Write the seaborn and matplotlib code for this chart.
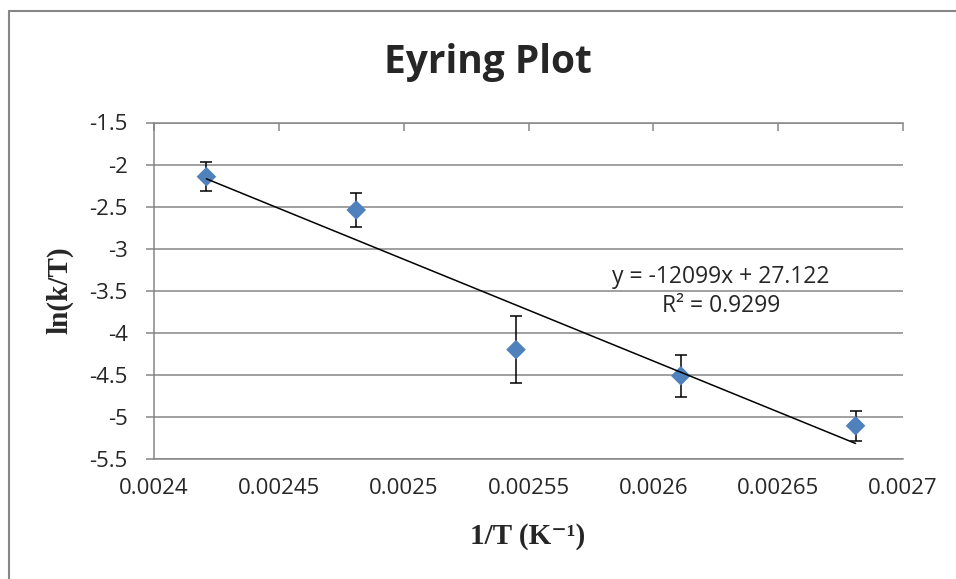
import numpy as np
import seaborn as sns
import matplotlib.pyplot as plt
from matplotlib.lines import Line2D

# data
inv_t = [0.002421, 0.002481, 0.002545, 0.002611, 0.002681]
ln_k_over_t = [-2.144, -2.540, -4.200, -4.511, -5.105]
err = [0.17, 0.20, 0.40, 0.25, 0.18]

slope = -12099
intercept = 27.122
r_squared = 0.9299

x_ticks = [0.0024, 0.00245, 0.0025, 0.00255, 0.0026, 0.00265, 0.0027]
x_ticklabels = ["0.0024", "0.00245", "0.0025", "0.00255", "0.0026", "0.00265", "0.0027"]
y_ticks = [-5.5, -5, -4.5, -4, -3.5, -3, -2.5, -2, -1.5]
y_ticklabels = ["-5.5", "-5", "-4.5", "-4", "-3.5", "-3", "-2.5", "-2", "-1.5"]

sns.set_style("white")
plt.rcParams["font.family"] = ["Open Sans", "DejaVu Sans"]

GRAY = "#868686"
BLUE = "#4F81BD"

fig = plt.figure(figsize=(9.56, 5.79), dpi=100)
ax = fig.add_axes([154 / 956, 1 - 459 / 579, (903 - 154) / 956, (459 - 122.5) / 579])

# error bars underneath the markers
ax.errorbar(inv_t, ln_k_over_t, yerr=err, fmt="none", ecolor="black",
            elinewidth=1.1, capsize=4, capthick=1.1, zorder=2)

sns.scatterplot(x=inv_t, y=ln_k_over_t, marker="D", s=100, color=BLUE,
                edgecolor="none", linewidth=0, ax=ax, zorder=3)

# linear trendline over the data range
fit_x = np.array([min(inv_t), max(inv_t)])
sns.lineplot(x=fit_x, y=slope * fit_x + intercept, color="black",
             linewidth=1.1, ax=ax, zorder=4)

ax.text(0.0026271, -3.408, f"y = {slope}x + {intercept}", fontsize=16.5,
        ha="center", va="baseline")
ax.text(0.0026271, -3.753, f"R² = {r_squared}", fontsize=16.5,
        ha="center", va="baseline")

ax.set_xlim(0.0024, 0.0027)
ax.set_ylim(-5.5, -1.5)
ax.set_xticks(x_ticks)
ax.set_xticklabels(x_ticklabels)
ax.set_yticks(y_ticks)
ax.set_yticklabels(y_ticklabels)

ax.grid(axis="y", color=GRAY, linewidth=1.1)
ax.grid(axis="x", visible=False)
for side in ["left", "bottom", "top"]:
    ax.spines[side].set_color(GRAY)
    ax.spines[side].set_linewidth(1.1)
ax.spines["right"].set_visible(False)

ax.tick_params(axis="x", bottom=False, top=True, direction="in", length=6,
               width=1.1, color=GRAY, labelsize=16, pad=14)
ax.tick_params(axis="y", left=True, direction="out", length=6, width=1.1,
               color=GRAY, labelsize=16, pad=13)

fig.text(488 / 956, 1 - 62 / 579, "Eyring Plot", fontsize=28, fontweight="bold",
         ha="center", va="center")
fig.text(60 / 956, 1 - 290 / 579, "ln(k/T)", fontsize=21, fontweight="bold",
         rotation=90, ha="center", va="center",
         family=["Liberation Serif", "DejaVu Serif"])
fig.text(528 / 956, 1 - 537 / 579, "1/T (K⁻¹)", fontsize=21, fontweight="bold",
         ha="center", va="center", family=["Liberation Serif", "DejaVu Serif"])

# chart area border (top and left edges visible in the crop)
fig.add_artist(Line2D([9 / 956, 9 / 956], [0, 1 - 11 / 579], color=GRAY,
                      linewidth=1.5, transform=fig.transFigure))
fig.add_artist(Line2D([9 / 956, 1], [1 - 11 / 579, 1 - 11 / 579], color=GRAY,
                      linewidth=1.5, transform=fig.transFigure))

fig.savefig("out.png", dpi=100)
